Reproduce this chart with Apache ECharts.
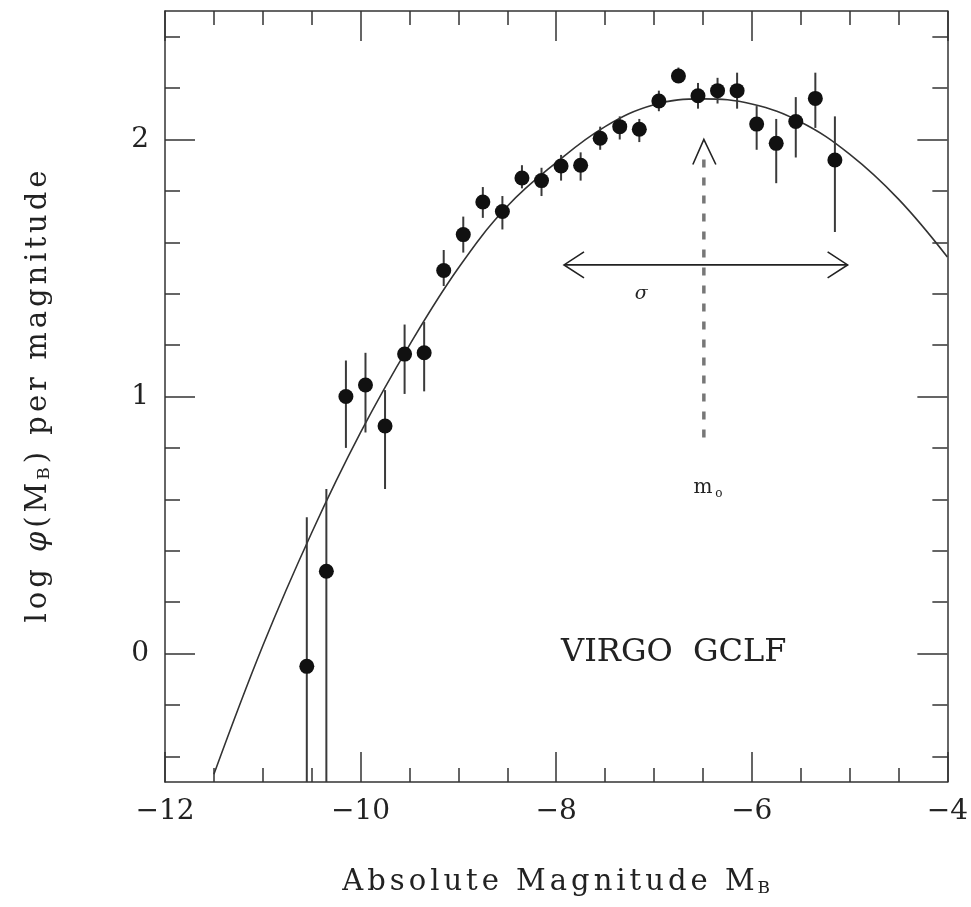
<!DOCTYPE html>
<html lang="en">
<head>
    <meta charset="UTF-8">
    <title>Virgo GCLF</title>
    <script src="https://cdn.jsdelivr.net/npm/echarts@6/dist/echarts.min.js"></script>
    <style>
        html, body { margin: 0; padding: 0; background: #fff; }
    </style>
</head>
<body>
    <div id="main" style="width: 971px;height:907px;"></div>

    <script>
        // magnitude bins and log phi values
        const magBins = [-10.55, -10.35, -10.15, -9.95, -9.75, -9.55, -9.35, -9.15, -8.95, -8.75,
                         -8.55, -8.35, -8.15, -7.95, -7.75, -7.55, -7.35, -7.15, -6.95, -6.75,
                         -6.55, -6.35, -6.15, -5.95, -5.75, -5.55, -5.35, -5.15]
        const logPhi = [-0.05, 0.32, 1.00, 1.045, 0.885, 1.165, 1.17, 1.49, 1.63, 1.757,
                        1.72, 1.85, 1.84, 1.897, 1.90, 2.005, 2.05, 2.04, 2.15, 2.247,
                        2.17, 2.19, 2.19, 2.06, 1.985, 2.07, 2.16, 1.92]
        const errHigh = [0.53, 0.64, 1.14, 1.17, 1.025, 1.28, 1.29, 1.57, 1.70, 1.815,
                         1.78, 1.90, 1.89, 1.94, 1.95, 2.05, 2.09, 2.08, 2.19, 2.28,
                         2.22, 2.24, 2.26, 2.13, 2.08, 2.165, 2.26, 2.09]
        const errLow = [-0.6, -0.6, 0.80, 0.86, 0.64, 1.01, 1.02, 1.43, 1.56, 1.695,
                        1.65, 1.81, 1.78, 1.84, 1.84, 1.96, 2.00, 1.99, 2.11, 2.22,
                        2.12, 2.14, 2.12, 1.96, 1.83, 1.93, 2.045, 1.64]

        // fitted curve
        const curveMag = [-11.5, -11.0, -10.5, -10.0, -9.5, -9.0, -8.5, -8.0,
                          -7.5, -7.0, -6.5, -6.0, -5.5, -5.0, -4.5, -4.0]
        const curveLogPhi = [-0.47, 0.03, 0.47, 0.86, 1.20, 1.50, 1.74, 1.91,
                             2.05, 2.135, 2.158, 2.138, 2.068, 1.943, 1.768, 1.543]

        const yMajorTicks = [0, 1, 2]
        const yMinorTicks = [-0.4, -0.2, 0, 0.2, 0.4, 0.6, 0.8, 1, 1.2, 1.4, 1.6, 1.8, 2, 2.2, 2.4]

        const FONT = "DejaVu Serif"
        const INK = "#222"

        // spread letters a bit, the original uses wide typewriter-like lettering
        function spaced(str) {
            return str.split("").map(c => "{t|" + c + "}").join("")
        }
        const nameRich = {
            t: { fontFamily: FONT, fontSize: 29, color: INK, padding: [0, 2] },
            sub: { fontFamily: FONT, fontSize: 17, color: INK, verticalAlign: "bottom", padding: [0, 2, 0, 1] },
            it: { fontFamily: FONT, fontStyle: "italic", fontSize: 29, color: INK, padding: [0, 2] }
        }

        const mychart = echarts.init(document.getElementById("main"))

        const axisLine = { show: true, onZero: false, lineStyle: { color: "#333", width: 1.5 } }
        const tickStyle = { color: "#333", width: 1.5 }
        const xTickFmt = v => String(v).replace("-", "\u2212")

        const option = {
            animation: false,
            backgroundColor: "#fff",
            grid: { left: 165, right: 18, top: 11, bottom: 125 },
            xAxis: [
                {
                    type: "value", position: "bottom", min: -12, max: -4, interval: 2,
                    axisLine: axisLine,
                    axisTick: { inside: true, length: 30, lineStyle: tickStyle },
                    minorTick: { show: true, splitNumber: 4, length: 14, lineStyle: tickStyle },
                    axisLabel: { fontFamily: FONT, fontSize: 28, color: INK, margin: 16, formatter: xTickFmt },
                    splitLine: { show: false },
                    name: spaced("Absolute Magnitude M") + "{sub|B}",
                    nameLocation: "middle", nameGap: 86,
                    nameTextStyle: { rich: nameRich }
                },
                {
                    type: "value", position: "top", min: -12, max: -4, interval: 2,
                    axisLine: axisLine,
                    axisTick: { inside: true, length: 30, lineStyle: tickStyle },
                    minorTick: { show: true, splitNumber: 4, length: 14, lineStyle: tickStyle },
                    axisLabel: { show: false },
                    splitLine: { show: false }
                }
            ],
            yAxis: [
                {
                    type: "value", position: "left", min: -0.5, max: 2.5,
                    axisLine: axisLine,
                    axisTick: { inside: true, length: 30, customValues: yMajorTicks, lineStyle: tickStyle },
                    axisLabel: { customValues: yMajorTicks, fontFamily: FONT, fontSize: 28, color: INK, margin: 16 },
                    splitLine: { show: false },
                    name: spaced("log ") + "{it|\u03c6}" + spaced("(M") + "{sub|B}" + spaced(") per magnitude"),
                    nameLocation: "middle", nameRotate: 90, nameGap: 112,
                    nameTextStyle: { rich: nameRich }
                },
                {
                    type: "value", position: "left", min: -0.5, max: 2.5,
                    axisLine: { show: false, onZero: false },
                    axisTick: { inside: true, length: 15, customValues: yMinorTicks, lineStyle: tickStyle },
                    axisLabel: { show: false },
                    splitLine: { show: false }
                },
                {
                    type: "value", position: "right", min: -0.5, max: 2.5,
                    axisLine: axisLine,
                    axisTick: { inside: true, length: 30, customValues: yMajorTicks, lineStyle: tickStyle },
                    axisLabel: { show: false },
                    splitLine: { show: false }
                },
                {
                    type: "value", position: "right", min: -0.5, max: 2.5,
                    axisLine: { show: false, onZero: false },
                    axisTick: { inside: true, length: 15, customValues: yMinorTicks, lineStyle: tickStyle },
                    axisLabel: { show: false },
                    splitLine: { show: false }
                }
            ],
            series: [
                {
                    // fitted gaussian
                    type: "line",
                    data: curveMag.map((m, i) => [m, curveLogPhi[i]]),
                    smooth: 0.4,
                    showSymbol: false,
                    lineStyle: { color: "#333", width: 1.6 },
                    clip: true,
                    z: 2
                },
                {
                    // error bars
                    type: "custom",
                    data: magBins.map((m, i) => [m, errHigh[i], errLow[i]]),
                    clip: true,
                    renderItem: (params, api) => {
                        const x = api.value(0)
                        const hi = api.coord([x, api.value(1)])
                        const lo = api.coord([x, api.value(2)])
                        return {
                            type: "line",
                            shape: { x1: hi[0], y1: hi[1], x2: lo[0], y2: lo[1] },
                            style: { stroke: "#3a3a3a", lineWidth: 2 }
                        }
                    },
                    z: 3
                },
                {
                    type: "scatter",
                    data: magBins.map((m, i) => [m, logPhi[i]]),
                    symbol: "circle",
                    symbolSize: 15,
                    itemStyle: { color: "#111", opacity: 1 },
                    z: 4
                },
                {
                    // sigma arrow, m0 arrow and texts
                    type: "custom",
                    data: [[-6.5, 1.5]],
                    renderItem: (params, api) => {
                        const s1 = api.coord([-7.92, 1.512])
                        const s2 = api.coord([-5.02, 1.512])
                        const p1 = api.coord([-6.49, 0.84])
                        const p2 = api.coord([-6.49, 2.0])
                        const sg = api.coord([-7.13, 1.40])
                        const m0 = api.coord([-6.50, 0.645])
                        const vg = api.coord([-7.95, 0.005])
                        const ln = { stroke: "#222", lineWidth: 1.6, fill: null }
                        return {
                            type: "group",
                            children: [
                                { type: "line", shape: { x1: s1[0], y1: s1[1], x2: s2[0], y2: s2[1] }, style: ln },
                                { type: "polyline", shape: { points: [[s1[0] + 20, s1[1] - 13], [s1[0], s1[1]], [s1[0] + 20, s1[1] + 13]] }, style: ln },
                                { type: "polyline", shape: { points: [[s2[0] - 20, s2[1] - 13], [s2[0], s2[1]], [s2[0] - 20, s2[1] + 13]] }, style: ln },
                                { type: "line", shape: { x1: p1[0], y1: p1[1], x2: p2[0], y2: p2[1] + 18 },
                                  style: { stroke: "#777", lineWidth: 3.5, lineDash: [8, 10] } },
                                { type: "polyline", shape: { points: [[p2[0] - 11, p2[1] + 25], [p2[0], p2[1]], [p2[0] + 12, p2[1] + 25]] }, style: ln },
                                { type: "text", style: { text: "\u03c3", x: sg[0], y: sg[1], font: "italic 19px " + FONT,
                                  fill: INK, align: "center", verticalAlign: "middle" } },
                                { type: "text", style: { text: "m", x: m0[0], y: m0[1], font: "20px " + FONT,
                                  fill: INK, align: "center", verticalAlign: "middle" } },
                                { type: "text", style: { text: "o", x: m0[0] + 16, y: m0[1] + 6, font: "12px " + FONT,
                                  fill: INK, align: "center", verticalAlign: "middle" } },
                                { type: "text", style: { text: "VIRGO  GCLF", x: vg[0], y: vg[1], font: "32px " + FONT,
                                  fill: INK, align: "left", verticalAlign: "middle" } }
                            ]
                        }
                    },
                    z: 5
                }
            ]
        }
        mychart.setOption(option)
    </script>
</body>
</html>
